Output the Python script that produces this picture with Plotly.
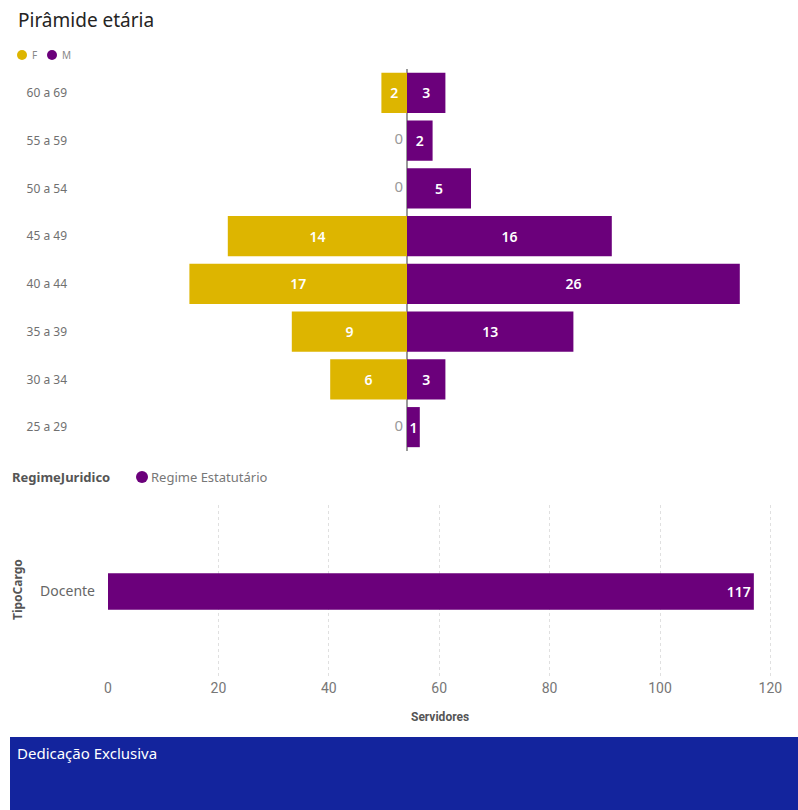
import plotly.graph_objects as go

# Pirâmide etária: servidores por faixa etária e sexo
faixas = ["60 a 69", "55 a 59", "50 a 54", "45 a 49", "40 a 44", "35 a 39", "30 a 34", "25 a 29"]
feminino = [2, 0, 0, 14, 17, 9, 6, 0]
masculino = [3, 2, 5, 16, 26, 13, 3, 1]

# Servidores por tipo de cargo (regime estatutário)
cargos = ["Docente"]
servidores = [117]

COR_F = "#DDB500"
COR_M = "#6B007B"
COR_FAIXA = "#13249D"
FONTE = "Noto Sans, Open Sans, sans-serif"
FONTE_EIXO = "Roboto, sans-serif"

W, H = 798, 810


def px(x):
    return x / W


def py(y):
    return 1 - y / H


fig = go.Figure()

# Barras femininas à esquerda (valores negativos), masculinas à direita
fig.add_trace(go.Bar(
    y=faixas, x=[-v for v in feminino], orientation="h",
    text=[str(v) if v > 0 else "" for v in feminino],
    textposition="inside", insidetextanchor="middle", constraintext="none",
    textfont=dict(color="white", size=14, family=FONTE, weight=600),
    marker=dict(color=COR_F, line=dict(width=0)),
    name="F", showlegend=False, xaxis="x", yaxis="y",
))
fig.add_trace(go.Bar(
    y=faixas, x=masculino, orientation="h",
    text=[str(v) if v > 0 else "" for v in masculino],
    textposition="inside", insidetextanchor="middle", constraintext="none",
    textfont=dict(color="white", size=14, family=FONTE, weight=600),
    marker=dict(color=COR_M, line=dict(width=0)),
    name="M", showlegend=False, xaxis="x", yaxis="y",
))

# Rótulos "0" para faixas sem servidores
zf = [(f, v) for f, v in zip(faixas, feminino) if v == 0]
fig.add_trace(go.Scatter(
    x=[0] * len(zf), y=[f for f, _ in zf], text=[f"{v}\u00a0" for _, v in zf],
    mode="text", textposition="middle left",
    textfont=dict(color="#9a9a9a", size=15, family=FONTE),
    showlegend=False, hoverinfo="skip", xaxis="x", yaxis="y",
))
zm = [(f, v) for f, v in zip(faixas, masculino) if v == 0]
if zm:
    fig.add_trace(go.Scatter(
        x=[0] * len(zm), y=[f for f, _ in zm], text=[f"\u00a0{v}" for _, v in zm],
        mode="text", textposition="middle right",
        textfont=dict(color="#9a9a9a", size=15, family=FONTE),
        showlegend=False, hoverinfo="skip", xaxis="x", yaxis="y",
    ))

# Servidores por tipo de cargo
fig.add_trace(go.Bar(
    y=cargos, x=servidores, orientation="h",
    text=[str(v) for v in servidores],
    textposition="inside", insidetextanchor="end",
    textfont=dict(color="white", size=14, family=FONTE, weight=600),
    marker=dict(color=COR_M, line=dict(width=0)),
    name="Regime Estatutário", showlegend=False, xaxis="x2", yaxis="y2",
    width=0.21,
))

esc = 12.8  # px por servidor na pirâmide
x_l, x_r, x0 = 80, 790, 407
fig.update_layout(
    width=W, height=H,
    margin=dict(l=0, r=0, t=0, b=0, pad=0, autoexpand=False),
    paper_bgcolor="white", plot_bgcolor="white",
    barmode="relative", bargap=0.16,
    font=dict(family=FONTE, color="#666666"),
    xaxis=dict(
        domain=[px(x_l), px(x_r)],
        range=[-(x0 - x_l) / esc, (x_r - x0) / esc],
        showgrid=False, showticklabels=False, ticks="",
        zeroline=True, zerolinecolor="#9a9a9a", zerolinewidth=1.5,
        anchor="y", fixedrange=True, automargin=False,
    ),
    yaxis=dict(
        domain=[py(451), py(69)],
        autorange="reversed", type="category",
        showgrid=False, ticks="",
        tickfont=dict(size=12, color="#707070", family=FONTE),
        ticklabelstandoff=12,
        anchor="x", fixedrange=True, automargin=False,
    ),
    xaxis2=dict(
        domain=[px(108), px(790)],
        range=[0, (790 - 108) / 5.52],
        dtick=20, showgrid=True, griddash="dot", gridcolor="#e0e0e0", gridwidth=1,
        zeroline=False, showline=False, ticks="",
        tickfont=dict(size=14, color="#777777", family=FONTE_EIXO),
        anchor="y2", fixedrange=True, automargin=False,
    ),
    yaxis2=dict(
        domain=[py(678), py(505)],
        type="category", showgrid=False, ticks="",
        tickfont=dict(size=14, color="#666666", family=FONTE),
        ticklabelstandoff=12,
        anchor="x2", fixedrange=True, automargin=False,
    ),
)

annotations = [
    dict(text="Pirâmide etária", x=px(16), y=py(20), font=dict(size=19, color="#252423", family=FONTE)),
    dict(text="F", x=px(30), y=py(55), font=dict(size=10, color="#888888", family=FONTE)),
    dict(text="M", x=px(60), y=py(55), font=dict(size=10, color="#888888", family=FONTE)),
    dict(text="<b>RegimeJuridico</b>", x=px(10), y=py(477), font=dict(size=13, color="#555555", family=FONTE)),
    dict(text="Regime Estatutário", x=px(149), y=py(477), font=dict(size=13, color="#777777", family=FONTE)),
    dict(text="<b>TipoCargo</b>", x=px(17), y=py(590), textangle=-90, xanchor="center",
         font=dict(size=12, color="#555555", family=FONTE)),
    dict(text="<b>Servidores</b>", x=px(440), y=py(717), xanchor="center",
         font=dict(size=12, color="#555555", family=FONTE_EIXO)),
    dict(text="Dedicação Exclusiva", x=px(15), y=py(753), font=dict(size=15, color="white", family=FONTE)),
]
for a in annotations:
    a.setdefault("xanchor", "left")
    a.update(xref="paper", yref="paper", yanchor="middle", showarrow=False)
fig.update_layout(annotations=annotations)


def dot(cx, cy, r, color):
    return dict(type="circle", xref="paper", yref="paper",
                xsizemode="pixel", ysizemode="pixel",
                xanchor=px(cx), yanchor=py(cy),
                x0=-r, x1=r, y0=-r, y1=r,
                fillcolor=color, line=dict(width=0))


fig.update_layout(shapes=[
    dot(22, 55, 5, COR_F),
    dot(52, 55, 5, COR_M),
    dot(142, 477, 6, COR_M),
    dict(type="rect", xref="paper", yref="paper", x0=px(10), x1=1, y0=0, y1=py(737),
         fillcolor=COR_FAIXA, line=dict(width=0), layer="below"),
])

fig.write_html("out.html")
